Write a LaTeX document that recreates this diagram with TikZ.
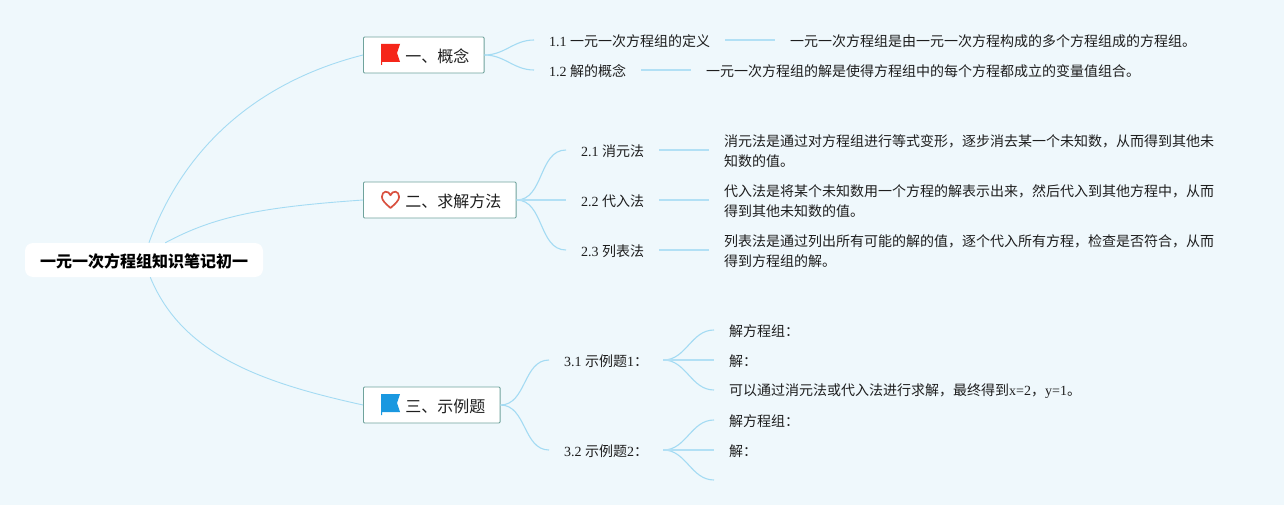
\documentclass[tikz,border=0pt]{standalone}
\usepackage{fontspec}
\setmainfont{Liberation Serif}
\newfontfamily\cjk{Noto Sans CJK SC}
\newcommand{\zh}[1]{{\cjk #1}}
\definecolor{paper}{HTML}{EFF8FC}
\definecolor{twigblue}{HTML}{A4DBF3}
\definecolor{boxteal}{HTML}{6FA39C}
\definecolor{inkgrey}{HTML}{1E1E1E}
\definecolor{flagred}{HTML}{F5261A}
\definecolor{flagblue}{HTML}{1A98E0}
\definecolor{heartred}{HTML}{D9503F}
\tikzset{
    rootbox/.style={fill=white, rounded corners=8pt, minimum width=238pt, minimum height=34pt, inner sep=0pt, text=black, font=\fontsize{16}{20}\selectfont\bfseries, execute at begin node={\rule{0pt}{17pt}}},
    topicbox/.style={draw=boxteal, line width=.9pt, fill=white, rounded corners=1pt, anchor=west, inner xsep=14.6pt, inner ysep=0pt, minimum height=36pt, text=inkgrey, font=\fontsize{16}{20}\selectfont, execute at begin node={\rule{0pt}{15.5pt}}},
    textnode/.style={anchor=west, align=left, inner xsep=15pt, inner ysep=2pt, text=inkgrey, font=\fontsize{14}{20}\selectfont, execute at begin node={\rule{0pt}{14.5pt}}},
    branch/.style={draw=twigblue, line width=.9pt},
    twig/.style={draw=twigblue, line width=1.1pt},
    stem/.style={draw=twigblue!85!white, line width=1.5pt},
    pics/flagicon/.style={code={
        \fill[#1] (18,-11) -- (37,-11) -- (34,-2) -- (37,7) -- (19,7) -- (19,10) -- (18,10) -- cycle;
    }},
    pics/hearticon/.style={code={
        \draw[#1, line width=1.7pt, line join=round] (27.5,8) .. controls (22.5,3.5) and (18.9,0.5) .. (18.9,-3.2)
            .. controls (18.9,-9.6) and (25.8,-9.8) .. (27.5,-4.8)
            .. controls (29.2,-9.8) and (36.1,-9.6) .. (36.1,-3.2)
            .. controls (36.1,0.5) and (32.5,3.5) .. (27.5,8) -- cycle;
    }},
}

\begin{document}
\begin{tikzpicture}[x=1pt, y=-1pt]
    % Page and its margins
    \fill[paper] (0,0) rectangle (1284,505);
    \useasboundingbox (0,0) rectangle (1284,505);

    % Centre and the three topics
    \node[rootbox] (root) at (144,260) {\zh{一元一次方程组知识笔记初一}};
    \node[topicbox] (t1) at (363,55) {\hspace*{27.4pt}\zh{一、概念}};
    \node[topicbox] (t2) at (363,200) {\hspace*{27.4pt}\zh{二、求解方法}};
    \node[topicbox] (t3) at (363,405) {\hspace*{27.4pt}\zh{三、示例题}};

    % Topic icons
    \pic at (t1.west) {flagicon=flagred};
    \pic at (t2.west) {hearticon=heartred};
    \pic at (t3.west) {flagicon=flagblue};

    % Part one
    \node[textnode] (s11) at (534,40) {1.1 \zh{一元一次方程组的定义}};
    \node[textnode] (s12) at (534,70) {1.2 \zh{解的概念}};
    \node[textnode] (d11) at (775,40) {\zh{一元一次方程组是由一元一次方程构成的多个方程组成的方程组。}};
    \node[textnode] (d12) at (691,70) {\zh{一元一次方程组的解是使得方程组中的每个方程都成立的变量值组合。}};

    % Part two
    \node[textnode] (s21) at (566,150) {2.1 \zh{消元法}};
    \node[textnode] (s22) at (566,200) {2.2 \zh{代入法}};
    \node[textnode] (s23) at (566,250) {2.3 \zh{列表法}};
    \node[textnode] (d21) at (709,151) {\zh{消元法是通过对方程组进行等式变形，逐步消去某一个未知数，从而得到其他未}\\\zh{知数的值。}};
    \node[textnode] (d22) at (709,201) {\zh{代入法是将某个未知数用一个方程的解表示出来，然后代入到其他方程中，从而}\\\zh{得到其他未知数的值。}};
    \node[textnode] (d23) at (709,251) {\zh{列表法是通过列出所有可能的解的值，逐个代入所有方程，检查是否符合，从而}\\\zh{得到方程组的解。}};

    % Part three
    \node[textnode] (s31) at (549,360) {3.1 \zh{示例题}1\zh{：}};
    \node[textnode] (s32) at (549,450) {3.2 \zh{示例题}2\zh{：}};
    \node[textnode] (l31) at (714,330) {\zh{解方程组：}};
    \node[textnode] (l32) at (714,360) {\zh{解：}};
    \node[textnode] (l33) at (714,390) {\zh{可以通过消元法或代入法进行求解，最终得到}x=2\zh{，}y=1\zh{。}};
    \node[textnode] (l34) at (714,420) {\zh{解方程组：}};
    \node[textnode] (l35) at (714,450) {\zh{解：}};
    \coordinate (l36) at (714,480);

    % Branches out of the centre
    \draw[branch] (root.74) .. controls +(38,-105) and +(-95,24) .. (t1.west);
    \draw[branch] (root.39) .. controls +(50,-27) and +(-100,7) .. (t2.west);
    \draw[branch] (root.-70) .. controls +(32,78) and +(-100,-22) .. (t3.west);

    % Curved twigs, then the straight stems
    \foreach \from/\to in {t1/s11, t1/s12, t2/s21, t2/s23, t3/s31, t3/s32}
        \draw[twig] (\from.east) to[out=0, in=180] (\to.west);
    \foreach \from/\to in {s31/l31, s31/l33, s32/l34}
        \draw[twig] (\from.east) to[out=0, in=180] (\to.west);
    \draw[twig] (s32.east) to[out=0, in=180] (l36);
    \foreach \from/\to in {s11/d11, s12/d12, s21/d21, s22/d22, s23/d23, t2/s22, s31/l32, s32/l35}
        \draw[stem] (\from.east) -- (\from.east -| \to.west);
\end{tikzpicture}
\end{document}
